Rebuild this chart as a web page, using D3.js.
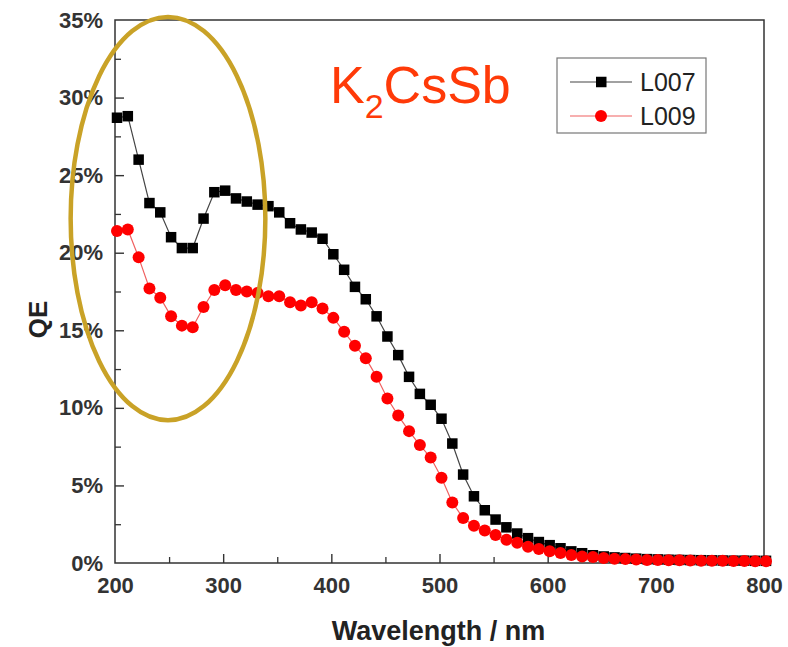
<!DOCTYPE html>
<html>
<head>
<meta charset="utf-8">
<script src="https://cdn.jsdelivr.net/npm/d3@7"></script>
<style>
  body { margin: 0; background: #fff; }
  svg { display: block; font-family: "Liberation Sans", Arial, sans-serif; }
</style>
</head>
<body>
<svg id="chart" width="788" height="647"></svg>
<script>
// Wavelength grid (nm), 10 nm steps
const wavelengths = d3.range(200, 801, 10);

// QE (%)
const l007 = [
  28.7, 28.8, 26.0, 23.2, 22.6, 21.0, 20.3, 20.3, 22.2, 23.9,
  24.0, 23.5, 23.3, 23.1, 23.0, 22.6, 21.9, 21.5, 21.3, 20.9,
  19.9, 18.9, 17.8, 17.0, 15.9, 14.6, 13.4, 12.0, 10.9, 10.2,
  9.3, 7.7, 5.7, 4.3, 3.4, 2.8, 2.3, 1.9, 1.6, 1.35,
  1.15, 0.95, 0.75, 0.63, 0.5, 0.42, 0.36, 0.32, 0.28, 0.25,
  0.23, 0.21, 0.2, 0.19, 0.18, 0.17, 0.16, 0.15, 0.15, 0.14,
  0.14
];
const l009 = [
  21.4, 21.5, 19.7, 17.7, 17.1, 15.9, 15.3, 15.2, 16.5, 17.6,
  17.9, 17.6, 17.5, 17.4, 17.2, 17.2, 16.8, 16.6, 16.8, 16.4,
  15.8, 14.9, 14.0, 13.2, 12.0, 10.6, 9.5, 8.5, 7.6, 6.8,
  5.5, 3.9, 2.9, 2.4, 2.1, 1.8, 1.5, 1.3, 1.05, 0.9,
  0.75, 0.64, 0.52, 0.42, 0.38, 0.32, 0.28, 0.25, 0.22, 0.2,
  0.19, 0.18, 0.17, 0.16, 0.15, 0.14, 0.14, 0.13, 0.13, 0.12,
  0.12
];

const seriesNames = ["L007", "L009"];
const xTicks = [200, 300, 400, 500, 600, 700, 800];
const yTicks = [0, 5, 10, 15, 20, 25, 30, 35];

const margin = { top: 20, right: 24, bottom: 84, left: 115 };
const W = 788, H = 647;
const w = W - margin.left - margin.right;
const h = H - margin.top - margin.bottom;

const svg = d3.select("#chart");
const g = svg.append("g")
  .attr("transform", "translate(" + margin.left + "," + margin.top + ")");

const x = d3.scaleLinear().domain([200, 800]).range([0, w]);
const y = d3.scaleLinear().domain([0, 35]).range([h, 0]);

const axisColor = "#333";

// frame
g.append("rect")
  .attr("x", 0).attr("y", 0)
  .attr("width", w).attr("height", h)
  .attr("fill", "none")
  .attr("stroke", axisColor)
  .attr("stroke-width", 1.5);

// minor ticks (inward)
g.append("g")
  .attr("transform", "translate(0," + h + ")")
  .call(d3.axisTop(x).tickValues(d3.range(250, 800, 100)).tickSize(6).tickFormat(""))
  .call(a => a.select(".domain").remove())
  .selectAll("line").attr("stroke", axisColor).attr("stroke-width", 1.3);
g.append("g")
  .call(d3.axisRight(y).tickValues(d3.range(2.5, 35, 5)).tickSize(6).tickFormat(""))
  .call(a => a.select(".domain").remove())
  .selectAll("line").attr("stroke", axisColor).attr("stroke-width", 1.3);

// major x axis
const xAxis = g.append("g")
  .attr("transform", "translate(0," + h + ")")
  .call(d3.axisBottom(x).tickValues(xTicks).tickSize(0).tickPadding(14).tickFormat(d3.format("d")));
xAxis.select(".domain").remove();
xAxis.selectAll("text")
  .attr("font-size", 22).attr("font-weight", "bold")
  .attr("font-family", "Liberation Sans, Arial, sans-serif")
  .attr("fill", axisColor);
g.append("g")
  .attr("transform", "translate(0," + h + ")")
  .call(d3.axisTop(x).tickValues(xTicks.slice(1, -1)).tickSize(9).tickFormat(""))
  .call(a => a.select(".domain").remove())
  .selectAll("line").attr("stroke", axisColor).attr("stroke-width", 1.4);

// major y axis
const yAxis = g.append("g")
  .call(d3.axisLeft(y).tickValues(yTicks).tickSize(0).tickPadding(12).tickFormat(d => d + "%"));
yAxis.select(".domain").remove();
yAxis.selectAll("text")
  .attr("font-size", 22).attr("font-weight", "bold")
  .attr("font-family", "Liberation Sans, Arial, sans-serif")
  .attr("fill", axisColor);
g.append("g")
  .call(d3.axisRight(y).tickValues(yTicks.slice(1, -1)).tickSize(9).tickFormat(""))
  .call(a => a.select(".domain").remove())
  .selectAll("line").attr("stroke", axisColor).attr("stroke-width", 1.4);

// axis titles
svg.append("text")
  .attr("x", margin.left + w / 2 - 1)
  .attr("y", 640)
  .attr("text-anchor", "middle")
  .attr("font-size", 27).attr("font-weight", "bold")
  .attr("fill", "#222")
  .text("Wavelength / nm");

svg.append("text")
  .attr("transform", "translate(47," + (margin.top + h / 2 + 28) + ") rotate(-90)")
  .attr("text-anchor", "middle")
  .attr("font-size", 26).attr("font-weight", "bold")
  .attr("fill", "#222")
  .text("QE");

// series
const d007 = wavelengths.map((wl, i) => ({ wl: wl, v: l007[i] }));
const d009 = wavelengths.map((wl, i) => ({ wl: wl, v: l009[i] }));

const line = d3.line().x(d => x(d.wl) + 2).y(d => y(d.v));

g.append("path").datum(d007)
  .attr("d", line)
  .attr("fill", "none").attr("stroke", "#444").attr("stroke-width", 1.2);
g.append("g").selectAll("rect").data(d007).enter().append("rect")
  .attr("x", d => x(d.wl) + 2 - 5.25)
  .attr("y", d => y(d.v) - 5.25)
  .attr("width", 10.5).attr("height", 10.5)
  .attr("fill", "#000");

g.append("path").datum(d009)
  .attr("d", line)
  .attr("fill", "none").attr("stroke", "#f06060").attr("stroke-width", 1.2);
g.append("g").selectAll("circle").data(d009).enter().append("circle")
  .attr("cx", d => x(d.wl) + 2)
  .attr("cy", d => y(d.v))
  .attr("r", 6)
  .attr("fill", "#ff0000");

// legend
const lg = svg.append("g").attr("transform", "translate(557,58)");
lg.append("rect")
  .attr("width", 149).attr("height", 75)
  .attr("fill", "#fff").attr("stroke", "#777").attr("stroke-width", 1.2);
const legendRows = [
  { name: seriesNames[0], color: "#444", fill: "#000", shape: "square", dy: 24 },
  { name: seriesNames[1], color: "#f06060", fill: "#ff0000", shape: "circle", dy: 58 }
];
legendRows.forEach(r => {
  lg.append("line")
    .attr("x1", 13).attr("x2", 75).attr("y1", r.dy).attr("y2", r.dy)
    .attr("stroke", r.color).attr("stroke-width", 1.2);
  if (r.shape === "square") {
    lg.append("rect").attr("x", 39).attr("y", r.dy - 5.25).attr("width", 10.5).attr("height", 10.5).attr("fill", r.fill);
  } else {
    lg.append("circle").attr("cx", 44).attr("cy", r.dy).attr("r", 6).attr("fill", r.fill);
  }
  lg.append("text")
    .attr("x", 83).attr("y", r.dy + 9)
    .attr("font-size", 25)
    .attr("fill", "#222")
    .text(r.name);
});

// material label
const title = svg.append("text")
  .attr("x", 330).attr("y", 103)
  .attr("font-size", 52)
  .attr("fill", "#ff3a08");
title.append("tspan").text("K");
title.append("tspan").attr("font-size", 34).attr("dy", 15).text("2");
title.append("tspan").attr("dy", -15).text("CsSb");

// highlight ellipse (short-wavelength region)
svg.append("ellipse")
  .attr("cx", margin.left + x(249))
  .attr("cy", margin.top + y(22.2))
  .attr("rx", x(290) - x(200))
  .attr("ry", y(0) - y(13))
  .attr("fill", "none")
  .attr("stroke", "#c9a227")
  .attr("stroke-width", 4.5);
</script>
</body>
</html>
